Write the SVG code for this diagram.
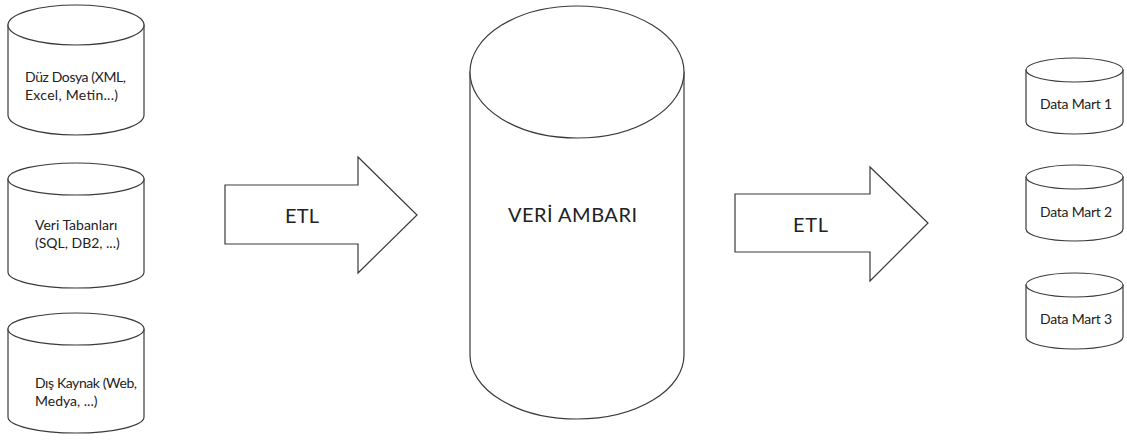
<svg xmlns="http://www.w3.org/2000/svg" width="1127" height="441" viewBox="0 0 1127 441">
  <style>
    .shape { fill: #ffffff; stroke: #3a3a3a; stroke-width: 1.2; }
    .lbl { font-family: Lato, "Liberation Sans", sans-serif; fill: #222222; }
    .small { font-size: 14px; }
    .big { font-size: 20px; }
  </style>
  <rect width="1127" height="441" fill="#ffffff"/>

  <!-- source systems -->
  <g id="src-flatfile">
    <path class="shape" d="M8 25 L8 115 A68 20 0 0 0 144 115 L144 25 Z"/>
    <ellipse class="shape" cx="76" cy="25" rx="68" ry="20"/>
    <text class="lbl small" x="25" y="82" textLength="101">Düz Dosya (XML,</text>
    <text class="lbl small" x="25" y="100" textLength="93">Excel, Metin...)</text>
  </g>

  <g id="src-databases">
    <path class="shape" d="M8 179 L8 272 A68 16 0 0 0 144 272 L144 179 Z"/>
    <ellipse class="shape" cx="76" cy="179" rx="68" ry="16"/>
    <text class="lbl small" x="35" y="230">Veri Tabanları</text>
    <text class="lbl small" x="35" y="248">(SQL, DB2, ...)</text>
  </g>

  <g id="src-external">
    <path class="shape" d="M8 329 L8 417 A68 16 0 0 0 144 417 L144 329 Z"/>
    <ellipse class="shape" cx="76" cy="329" rx="68" ry="16"/>
    <text class="lbl small" x="35" y="388" textLength="102">Dış Kaynak (Web,</text>
    <text class="lbl small" x="35" y="406">Medya, ...)</text>
  </g>

  <!-- central warehouse -->
  <g id="warehouse">
    <path class="shape" d="M470 72 L470 355 A107 64 0 0 0 684 355 L684 72 Z"/>
    <ellipse class="shape" cx="577" cy="72" rx="107" ry="66"/>
    <text class="lbl big" x="572.5" y="222" text-anchor="middle" textLength="129">VERİ AMBARI</text>
  </g>

  <!-- data marts -->
  <g id="mart-1">
    <path class="shape" d="M1026 70 L1026 122 A48.5 12 0 0 0 1123 122 L1123 70 Z"/>
    <ellipse class="shape" cx="1074.5" cy="70" rx="48.5" ry="12"/>
    <text class="lbl small" x="1076" y="109" text-anchor="middle" textLength="72">Data Mart 1</text>
  </g>
  <g id="mart-2">
    <path class="shape" d="M1026 177 L1026 229 A48.5 12 0 0 0 1123 229 L1123 177 Z"/>
    <ellipse class="shape" cx="1074.5" cy="177" rx="48.5" ry="12"/>
    <text class="lbl small" x="1076" y="217" text-anchor="middle" textLength="72">Data Mart 2</text>
  </g>
  <g id="mart-3">
    <path class="shape" d="M1026 285 L1026 337 A48.5 12 0 0 0 1123 337 L1123 285 Z"/>
    <ellipse class="shape" cx="1074.5" cy="285" rx="48.5" ry="12"/>
    <text class="lbl small" x="1076" y="324" text-anchor="middle" textLength="72">Data Mart 3</text>
  </g>

  <!-- ETL flow arrows -->
  <g id="connectors">
    <g id="etl-in">
      <path class="shape" d="M225 185 L358 185 L358 157 L417 215 L358 273 L358 244 L225 244 Z"/>
      <text class="lbl big" x="302" y="223" text-anchor="middle" textLength="34">ETL</text>
    </g>
    <g id="etl-out">
      <path class="shape" d="M735 194 L870 194 L870 167 L928 223 L870 281 L870 252 L735 252 Z"/>
      <text class="lbl big" x="810.5" y="232" text-anchor="middle" textLength="35">ETL</text>
    </g>
  </g>
</svg>
